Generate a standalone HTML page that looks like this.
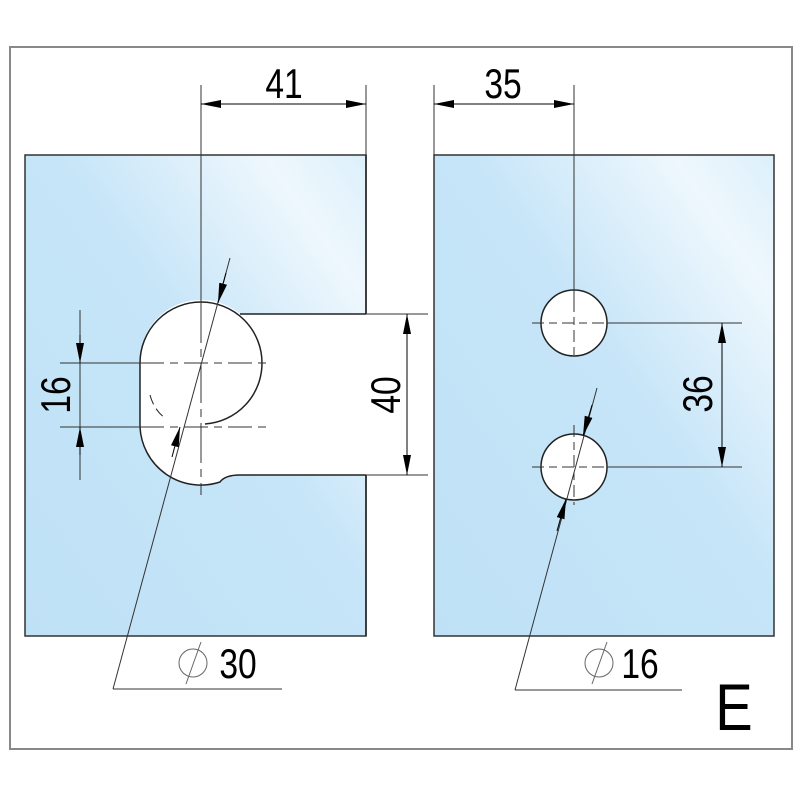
<!DOCTYPE html>
<html><head><style>html,body{margin:0;padding:0;background:#fff}svg{display:block}</style></head>
<body>
<svg width="800" height="800" viewBox="0 0 800 800" xmlns="http://www.w3.org/2000/svg" font-family="Liberation Sans, sans-serif">
<defs>
<linearGradient id="g" x1="0" y1="1" x2="1" y2="0">
<stop offset="0" stop-color="#bfe1f6"/><stop offset="0.55" stop-color="#c6e5f8"/><stop offset="0.85" stop-color="#eef7fd"/><stop offset="1" stop-color="#dcf0fb"/>
</linearGradient>
<marker id="a" viewBox="0 0 20 8" refX="20" refY="4" markerWidth="20" markerHeight="8" markerUnits="userSpaceOnUse" orient="auto"><path d="M0,0 L20,4 L0,8 Z" fill="#000"/></marker>
</defs>
<rect x="10" y="47" width="782" height="702" fill="#fff" stroke="#888" stroke-width="2"/>
<rect x="25" y="155" width="341" height="481" fill="url(#g)" stroke="#333" stroke-width="1.5"/>
<rect x="434" y="155" width="340" height="481" fill="url(#g)" stroke="#333" stroke-width="1.5"/>
<path d="M240,314 L368,314 L368,475 L240,475 Q225,475 220,482 A61,61 0 0 1 140,427 L140,363 A61,61 0 0 1 240,314 Z" fill="#fff"/>
<g fill="none" stroke="#222" stroke-width="1.5">
<path d="M366,155 L366,314 M366,475 L366,636"/>
<path d="M240,314 L366,314 M240,475 L366,475"/>
<path d="M240,475 Q225,475 220,482 A61,61 0 0 1 140,427 L140,363 A61,61 0 0 1 262,363 A61,61 0 0 1 205,424"/>
<circle cx="574" cy="323" r="33" fill="#fff"/>
<circle cx="574" cy="467" r="33" fill="#fff"/>
</g>
<path d="M150,395 Q154,410 165,418" fill="none" stroke="#222" stroke-width="1" stroke-dasharray="10,5"/>
<g stroke="#333" stroke-width="1" fill="none">
<line x1="366" y1="314" x2="428" y2="314"/><line x1="366" y1="475" x2="428" y2="475"/>
<line x1="201" y1="85" x2="201" y2="303"/>
<line x1="201" y1="303" x2="201" y2="495" stroke-dasharray="40,6,8,6"/>
<line x1="366" y1="85" x2="366" y2="155"/>
<line x1="434" y1="85" x2="434" y2="155"/>
<line x1="574" y1="85" x2="574" y2="300"/>
<line x1="574" y1="300" x2="574" y2="360" stroke-dasharray="12,5,8,5"/>
<line x1="574" y1="425" x2="574" y2="505" stroke-dasharray="12,5,8,5"/>
<line x1="60" y1="363" x2="140" y2="363"/>
<line x1="140" y1="363" x2="272" y2="363" stroke-dasharray="24,6,8,6"/>
<line x1="60" y1="427" x2="140" y2="427"/>
<line x1="140" y1="427" x2="272" y2="427" stroke-dasharray="24,6,8,6"/>
<line x1="532" y1="323" x2="607" y2="323" stroke-dasharray="12,5,8,5"/>
<line x1="607" y1="323" x2="742" y2="323"/>
<line x1="532" y1="467" x2="607" y2="467" stroke-dasharray="12,5,8,5"/>
<line x1="607" y1="467" x2="742" y2="467"/>
<line x1="230" y1="258" x2="113" y2="689"/><line x1="113" y1="689" x2="282" y2="689"/>
<line x1="597" y1="388" x2="515" y2="690"/><line x1="515" y1="690" x2="682" y2="690"/>
<line x1="80" y1="310" x2="80" y2="480"/>
</g>
<g stroke="#000" stroke-width="1">
<line x1="284" y1="104" x2="201" y2="104" marker-end="url(#a)"/><line x1="284" y1="104" x2="366" y2="104" marker-end="url(#a)"/>
<line x1="503" y1="104" x2="434" y2="104" marker-end="url(#a)"/><line x1="503" y1="104" x2="574" y2="104" marker-end="url(#a)"/>
<line x1="407" y1="395" x2="407" y2="314" marker-end="url(#a)"/><line x1="407" y1="395" x2="407" y2="475" marker-end="url(#a)"/>
<line x1="722" y1="395" x2="722" y2="323" marker-end="url(#a)"/><line x1="722" y1="395" x2="722" y2="467" marker-end="url(#a)"/>
<line x1="80" y1="335" x2="80" y2="363" marker-end="url(#a)"/><line x1="80" y1="455" x2="80" y2="427" marker-end="url(#a)"/>
<line x1="226" y1="273" x2="218" y2="303" marker-end="url(#a)"/><line x1="172" y1="457" x2="180" y2="427" marker-end="url(#a)"/>
<line x1="592" y1="405" x2="583" y2="436" marker-end="url(#a)"/><line x1="557" y1="531" x2="566" y2="499" marker-end="url(#a)"/>
</g>
<g fill="none" stroke="#666" stroke-width="1">
<circle cx="193" cy="663" r="14"/><line x1="186" y1="684" x2="201" y2="642"/>
<circle cx="599" cy="663" r="14"/><line x1="592" y1="684" x2="607" y2="642"/>
</g>
<g font-size="42" fill="#000">
<text transform="translate(284,98) scale(0.8,1)" text-anchor="middle">41</text>
<text transform="translate(503,98) scale(0.8,1)" text-anchor="middle">35</text>
<text transform="translate(238,678) scale(0.8,1)" text-anchor="middle">30</text>
<text transform="translate(640,678) scale(0.8,1)" text-anchor="middle">16</text>
<text transform="translate(70,395) rotate(-90) scale(0.8,1)" text-anchor="middle">16</text>
<text transform="translate(400,395) rotate(-90) scale(0.8,1)" text-anchor="middle">40</text>
<text transform="translate(712,394) rotate(-90) scale(0.8,1)" text-anchor="middle">36</text>
<text transform="translate(734,730) scale(0.85,1)" text-anchor="middle" font-size="66">E</text>
</g>
</svg>
</body></html>
